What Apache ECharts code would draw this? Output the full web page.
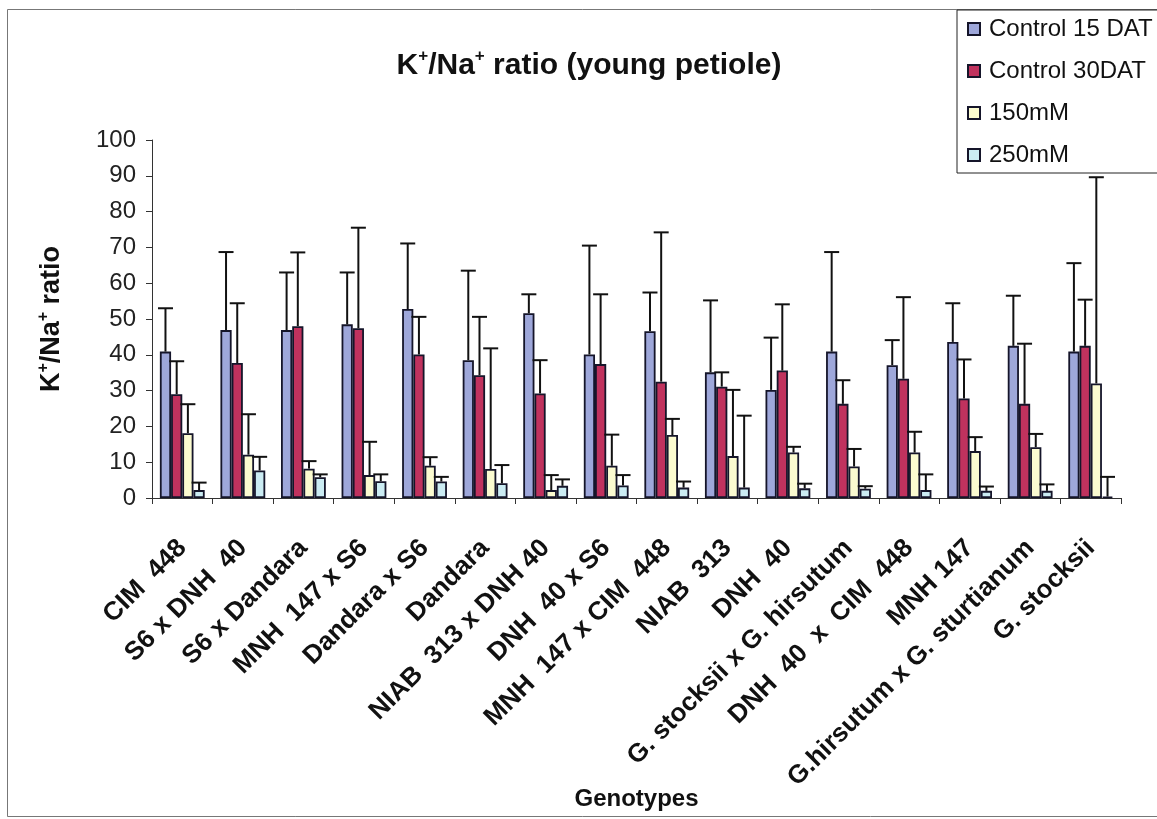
<!DOCTYPE html>
<html>
<head>
<meta charset="utf-8">
<script src="https://cdn.jsdelivr.net/npm/echarts@6/dist/echarts.min.js"></script>
<style>
  html, body { margin: 0; padding: 0; background: #ffffff; }
  #chart { width: 1157px; height: 819px; }
</style>
</head>
<body>
<div id="chart"></div>
<script>
// Genotypes on the category axis
const categories = [
  'CIM  448', 'S6 x DNH  40', 'S6 x Dandara', 'MNH  147 x S6', 'Dandara x S6',
  'Dandara', 'NIAB  313 x DNH 40', 'DNH  40 x S6', 'MNH  147 x CIM  448', 'NIAB  313',
  'DNH  40', 'G. stocksii x G. hirsutum', 'DNH  40  x  CIM  448', 'MNH 147',
  'G.hirsutum x G. sturtianum', 'G. stocksii'
];

// Mean K+/Na+ ratio per treatment
const control15 = [40.9, 46.9, 46.9, 48.5, 52.8, 38.5, 51.6, 40.1, 46.6, 35.1, 30.2, 40.9, 37.1, 43.6, 42.5, 40.9];
const control30 = [29.0, 37.7, 48.0, 47.4, 40.1, 34.3, 29.2, 37.4, 32.5, 31.1, 35.6, 26.3, 33.3, 27.8, 26.3, 42.5];
const mM150 = [18.1, 12.1, 8.2, 6.4, 9.0, 8.1, 2.2, 9.0, 17.6, 11.7, 12.7, 8.8, 12.7, 13.1, 14.2, 32.0];
const mM250 = [2.2, 7.7, 5.8, 4.7, 4.6, 4.1, 3.4, 3.5, 2.9, 2.9, 2.7, 2.6, 2.2, 2.0, 2.0, 0.4];

// Upper error bar lengths (same order)
const control15Err = [12.1, 21.8, 16.1, 14.5, 18.3, 25.0, 5.3, 30.4, 10.8, 20.1, 14.6, 27.8, 7.0, 10.8, 14.0, 24.7];
const control30Err = [9.2, 16.7, 20.6, 28.1, 10.5, 16.3, 9.3, 19.5, 41.7, 4.0, 18.5, 6.6, 22.8, 10.9, 16.8, 12.9];
const mM150Err = [8.1, 11.3, 2.1, 9.3, 2.4, 33.7, 4.2, 8.7, 4.5, 18.5, 1.6, 4.9, 5.8, 3.9, 3.7, 57.6];
const mM250Err = [2.1, 3.8, 0.8, 1.9, 1.3, 5.1, 1.8, 2.9, 1.7, 20.1, 1.3, 0.7, 4.4, 1.2, 1.8, 5.5];

const seriesNames = ['Control 15 DAT', 'Control 30DAT', '150mM', '250mM'];
const seriesColors = ['#9ea7da', '#c0325e', '#fbfbd0', '#cbecf3'];
const yTicks = [0, 10, 20, 30, 40, 50, 60, 70, 80, 90, 100];

const means = [control15, control30, mM150, mM250];
const errs = [control15Err, control30Err, mM150Err, mM250Err];

const CAT_GAP = 0.26;      // share of a category left empty
const N_BARS = means.length;
const FONT = 'Liberation Sans, Arial';

// Upper-only error bars, placed over the matching bar of the group
function errorBarSeries(k) {
  return {
    type: 'custom',
    name: seriesNames[k] + ' error',
    z: 5,
    silent: true,
    data: means[k].map((v, i) => [i, v, errs[k][i]]),
    encode: { x: 0, y: 1 },
    renderItem: function (params, api) {
      const idx = api.value(0);
      const base = api.coord([idx, api.value(1)]);
      const top = api.coord([idx, api.value(1) + api.value(2)]);
      const catW = api.size([1, 0])[0];
      const barW = catW * (1 - CAT_GAP) / N_BARS;
      const x = base[0] + (k - (N_BARS - 1) / 2) * barW;
      const half = 7.5;
      const st = { stroke: '#111111', lineWidth: 2 };
      return {
        type: 'group',
        children: [
          { type: 'line', shape: { x1: x, y1: base[1], x2: x, y2: top[1] }, style: st },
          { type: 'line', shape: { x1: x - half, y1: top[1], x2: x + half, y2: top[1] }, style: st }
        ]
      };
    }
  };
}

const barSeries = means.map((arr, k) => ({
  type: 'bar',
  name: seriesNames[k],
  data: arr,
  barGap: '0%',
  barCategoryGap: (CAT_GAP * 100) + '%',
  itemStyle: { color: seriesColors[k], borderColor: '#15152a', borderWidth: 1.8 },
  z: 2
}));

const chart = echarts.init(document.getElementById('chart'), null, { renderer: 'canvas' });

chart.setOption({
  animation: false,
  backgroundColor: '#ffffff',
  title: {
    text: '{b|K}{s|+}{b|/Na}{s|+}{b| ratio (young petiole)}',
    left: 584,
    top: 43,
    textAlign: 'center',
    textStyle: {
      rich: {
        b: { fontFamily: FONT, fontWeight: 'bold', fontSize: 30, lineHeight: 36, color: '#111111' },
        s: { fontFamily: FONT, fontWeight: 'bold', fontSize: 17, lineHeight: 17, verticalAlign: 'top', color: '#111111' }
      }
    }
  },
  legend: {
    orient: 'vertical',
    left: 957,
    top: 10,
    width: 200,
    padding: [7, 30, 6, 10],
    itemGap: 18,
    itemWidth: 12,
    itemHeight: 12,
    backgroundColor: '#ffffff',
    borderColor: '#222222',
    borderWidth: 1,
    data: seriesNames,
    icon: 'rect',
    textStyle: { fontFamily: FONT, fontSize: 24, lineHeight: 24, color: '#111111', padding: [0, 0, 0, 4] }
  },
  grid: { left: 152, right: 36, top: 140, bottom: 321, containLabel: false },
  xAxis: {
    type: 'category',
    data: categories,
    name: 'Genotypes',
    nameLocation: 'middle',
    nameGap: 289,
    nameMoveOverlap: false,
    nameTextStyle: { fontFamily: FONT, fontWeight: 'bold', fontSize: 24, color: '#111111' },
    axisLine: { lineStyle: { color: '#333333', width: 1 } },
    axisTick: { show: true, alignWithLabel: false, length: 6, lineStyle: { color: '#333333' } },
    axisLabel: {
      interval: 0,
      rotate: 45,
      margin: 46,
      fontFamily: FONT,
      fontWeight: 'bold',
      fontSize: 26,
      color: '#111111'
    }
  },
  yAxis: {
    type: 'value',
    min: 0,
    max: 100,
    interval: 10,
    name: '{b|K}{s|+}{b|/Na}{s|+}{b| ratio}',
    nameLocation: 'middle',
    nameGap: 84,
    nameRotate: 90,
    nameMoveOverlap: false,
    nameTextStyle: {
      rich: {
        b: { fontFamily: FONT, fontWeight: 'bold', fontSize: 27, lineHeight: 32, color: '#111111' },
        s: { fontFamily: FONT, fontWeight: 'bold', fontSize: 16, lineHeight: 16, verticalAlign: 'top', color: '#111111' }
      }
    },
    splitLine: { show: false },
    axisLine: { show: true, lineStyle: { color: '#333333', width: 1 } },
    axisTick: { show: true, length: 6, lineStyle: { color: '#333333' } },
    axisLabel: {
      margin: 16,
      fontFamily: FONT,
      fontSize: 24,
      color: '#222222',
      formatter: function (v) { return yTicks.indexOf(v) >= 0 ? String(v) : ''; }
    }
  },
  graphic: [
    {
      type: 'rect',
      z: -10,
      shape: { x: 7.5, y: 9.5, width: 1160, height: 807 },
      style: { fill: 'none', stroke: '#777777', lineWidth: 1 }
    }
  ],
  series: barSeries.concat(means.map((_, k) => errorBarSeries(k)))
});
</script>
</body>
</html>
